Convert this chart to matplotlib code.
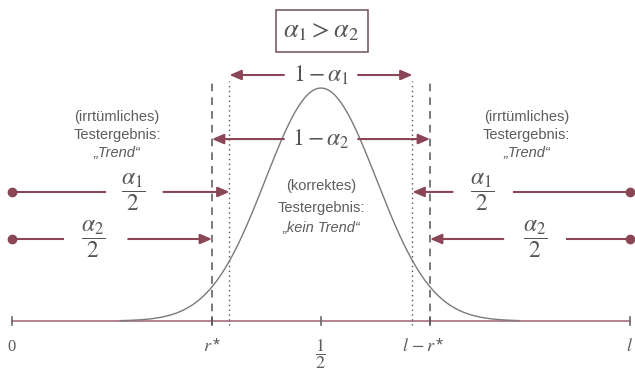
import numpy as np
import matplotlib
matplotlib.use("Agg")
import matplotlib.pyplot as plt
from matplotlib.patches import Rectangle

plt.rcParams['mathtext.fontset'] = 'stix'
plt.rcParams['font.family'] = ['Liberation Sans', 'DejaVu Sans']

# distribution of the test statistic on [0, l], centred at l/2
l_end = 1.0
centre = 0.5
sigma = 0.09
alpha1 = 0.10
alpha2 = 0.05
z_alpha1 = 1.645   # two-sided quantile for alpha1
z_alpha2 = 1.96    # two-sided quantile for alpha2
tick_positions = [0.0, centre, l_end]
tick_labels = ['0', r'$\dfrac{1}{2}$', r'$l$']

crit1_lo = centre - z_alpha1 * sigma
crit1_hi = centre + z_alpha1 * sigma
r_star = centre - z_alpha2 * sigma
l_minus_r = centre + z_alpha2 * sigma

maroon = '#8a4656'
grey_txt = '#5c5c5c'
math_col = '#555555'

fig = plt.figure(figsize=(6.35, 3.72), dpi=100)
ax = fig.add_axes([0, 0, 1, 1])
ax.set_xlim(-0.0194, 1.0081)
ax.set_ylim(-0.219, 1.378)
ax.axis('off')

# density curve
x = np.linspace(0.175, 0.82, 400)
y = np.exp(-0.5 * ((x - centre) / sigma) ** 2)
ax.plot(x, y, color='#7a7a7a', lw=1.0, zorder=3)

# base axis with end and centre ticks
ax.plot([0, l_end], [0, 0], color='#a0606e', lw=1.1, zorder=2)
for t in tick_positions + [r_star, l_minus_r]:
    ax.plot([t, t], [-0.017, 0.017], color='#666666', lw=1.2, zorder=2)

# critical values: dashed for alpha2, dotted for alpha1
for xc in (r_star, l_minus_r):
    ax.plot([xc, xc], [-0.017, 1.03], color='#555555', lw=1.1,
            ls=(0, (5, 4)), zorder=2)
for xc in (crit1_lo, crit1_hi):
    ax.plot([xc, xc], [-0.017, 1.03], color='#555555', lw=1.0,
            ls=(0, (1, 2.5)), zorder=2)

# axis labels
lab_y = -0.11
ax.text(0.0, lab_y, tick_labels[0], fontsize=12, color=grey_txt, ha='center',
        va='center', family='Liberation Serif')
ax.text(r_star, lab_y, r'$r\,$*', fontsize=13, color=grey_txt, ha='center', va='center')
ax.text(centre, -0.142, tick_labels[1], fontsize=13, color=grey_txt,
        ha='center', va='center')
ax.text(l_minus_r - 0.01, lab_y, r'$l\,-r\,$*', fontsize=13, color=grey_txt,
        ha='center', va='center')
ax.text(l_end, lab_y, tick_labels[2], fontsize=13, color=grey_txt,
        ha='center', va='center')

# boxed condition
ax.add_patch(Rectangle((0.427, 1.155), 0.149, 0.18, fill=False,
                       edgecolor='#6e5058', lw=1.1))
ax.text(centre, 1.245, r'$\alpha_1 > \alpha_2$', fontsize=19, color=math_col,
        ha='center', va='center')

arrow_kw = dict(arrowstyle='-|>,head_length=0.7,head_width=0.3',
                color=maroon, lw=1.5, shrinkA=0, shrinkB=0)


def arrow(x0, x1, yy):
    ax.annotate('', xy=(x1, yy), xytext=(x0, yy), arrowprops=arrow_kw)


def seg(x0, x1, yy):
    ax.plot([x0, x1], [yy, yy], color=maroon, lw=1.5)


# 1 - alpha ranges
y1 = 1.056
ax.text(centre, y1, r'$1 - \alpha_1$', fontsize=17, color=math_col,
        ha='center', va='center')
arrow(0.44, crit1_lo, y1)
arrow(0.56, crit1_hi, y1)

y2 = 0.781
ax.text(centre, y2, r'$1 - \alpha_2$', fontsize=17, color=math_col,
        ha='center', va='center', zorder=4)
arrow(0.44, r_star, y2)
arrow(0.56, l_minus_r, y2)

# rejection regions, left
ya1 = 0.554
ya2 = 0.352
x0 = 0.0
dot_kw = dict(marker='o', color=maroon, ms=6, ls='none')
ax.plot([x0, x0], [ya1, ya2], **dot_kw)
seg(x0, 0.150, ya1)
ax.text(0.196, ya1, r'$\dfrac{\alpha_1}{2}$', fontsize=17, color=math_col,
        ha='center', va='center')
arrow(0.245, crit1_lo, ya1)
seg(x0, 0.083, ya2)
ax.text(0.131, ya2, r'$\dfrac{\alpha_2}{2}$', fontsize=17, color=math_col,
        ha='center', va='center')
arrow(0.188, r_star, ya2)

# rejection regions, right
ax.plot([l_end, l_end], [ya1, ya2], **dot_kw)
arrow(0.713, crit1_hi, ya1)
ax.text(0.761, ya1, r'$\dfrac{\alpha_1}{2}$', fontsize=17, color=math_col,
        ha='center', va='center')
seg(0.812, l_end, ya1)
arrow(0.795, l_minus_r, ya2)
ax.text(0.846, ya2, r'$\dfrac{\alpha_2}{2}$', fontsize=17, color=math_col,
        ha='center', va='center')
seg(0.898, l_end, ya2)

# test outcome descriptions
for xc in (0.170, 0.833):
    ax.text(xc, 0.876, '(irrtümliches)', fontsize=10.5, color=grey_txt,
            ha='center', va='center')
    ax.text(xc, 0.798, 'Testergebnis:', fontsize=10.5, color=grey_txt,
            ha='center', va='center')
    ax.text(xc, 0.721, '„Trend“', fontsize=10.5, color=grey_txt,
            ha='center', va='center', style='italic')

ax.text(centre, 0.578, '(korrektes)', fontsize=10.5, color=grey_txt,
        ha='center', va='center')
ax.text(centre, 0.487, 'Testergebnis:', fontsize=10.5, color=grey_txt,
        ha='center', va='center')
ax.text(centre, 0.401, '„kein Trend“', fontsize=10.5, color=grey_txt,
        ha='center', va='center', style='italic')

fig.savefig('out.png', dpi=100, facecolor='white')
